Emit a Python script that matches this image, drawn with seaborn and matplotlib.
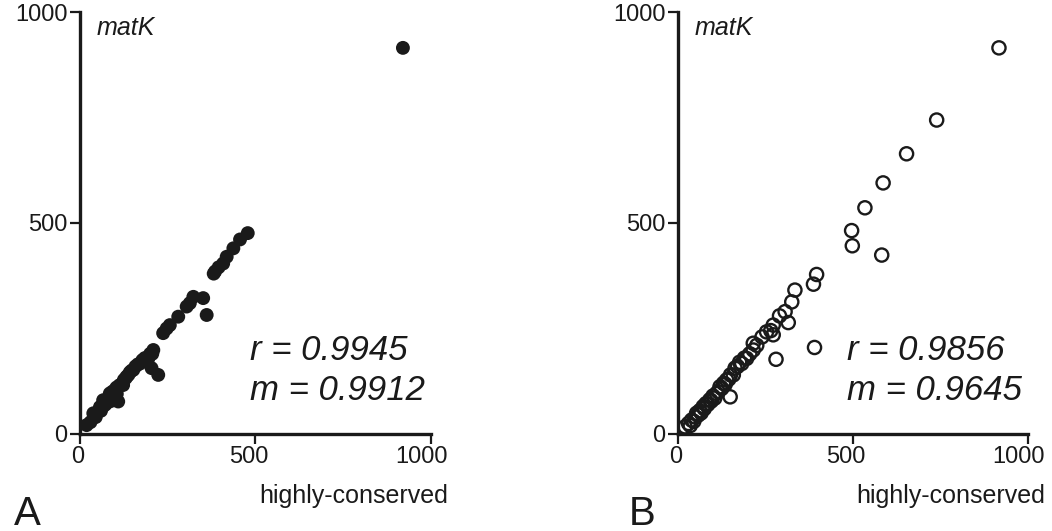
import numpy as np
import pandas as pd
import matplotlib
matplotlib.use('Agg')
import matplotlib.pyplot as plt
import matplotlib.transforms as mtransforms
import seaborn as sns

# panel A (filled dots): highly-conserved vs matK
a_x = [19, 30, 38, 45, 50, 57, 60, 66, 70, 75, 80, 85, 88, 92, 95, 100, 104, 105, 109,
       112, 118, 123, 125, 130, 133, 138, 142, 147, 152, 158, 165, 171, 178, 185, 195,
       200, 204, 206, 209, 223, 237, 247, 256, 280, 304, 313, 323, 351, 361, 381, 385,
       395, 408, 418, 437, 456, 478, 920]
a_y = [21, 28, 49, 40, 52, 64, 55, 80, 68, 72, 85, 96, 78, 100, 90, 105, 110, 95, 77,
       115, 118, 116, 128, 132, 136, 140, 146, 150, 152, 160, 165, 167, 175, 180, 179,
       190, 156, 190, 199, 140, 239, 250, 258, 278, 302, 310, 325, 322, 282, 380, 385,
       395, 404, 420, 440, 461, 476, 915]

# panel B (open circles)
b_x = [20, 30, 35, 39, 45, 50, 53, 58, 62, 66, 72, 75, 80, 85, 91, 95, 100, 105, 110,
       115, 120, 125, 130, 135, 139, 145, 149, 150, 158, 163, 170, 176, 182, 190, 196,
       205, 215, 215, 225, 240, 253, 265, 272, 272, 280, 290, 306, 315, 325, 334, 387,
       390, 396, 496, 498, 534, 582, 586, 653, 739, 917]
b_y = [17, 25, 20, 33, 30, 40, 49, 45, 55, 50, 65, 60, 72, 70, 81, 78, 90, 85, 96,
       100, 112, 108, 120, 118, 128, 130, 88, 140, 140, 156, 160, 170, 167, 180, 179,
       190, 199, 215, 210, 230, 242, 245, 235, 258, 177, 280, 290, 264, 313, 341, 355,
       205, 378, 482, 446, 536, 424, 595, 664, 744, 915]

ticks = [0, 500, 1000]
stats_a = ['r = 0.9945', 'm = 0.9912']
stats_b = ['r = 0.9856', 'm = 0.9645']

sns.set_theme(style='ticks')
plt.rcParams['font.family'] = ['Liberation Sans', 'DejaVu Sans']

fig = plt.figure(figsize=(10.52, 5.31), dpi=100)
ax1 = fig.add_axes([0.076, 0.1827, 0.3337, 0.7947])
ax2 = fig.add_axes([0.6445, 0.1827, 0.3327, 0.7947])

dfa = pd.DataFrame({'x': a_x, 'y': a_y})
dfb = pd.DataFrame({'x': b_x, 'y': b_y})

sns.scatterplot(data=dfa, x='x', y='y', ax=ax1, color='#1a1a1a', s=100,
                edgecolor='none', clip_on=False, zorder=3)
sns.scatterplot(data=dfb, x='x', y='y', ax=ax2, facecolor='none', edgecolor='#1a1a1a',
                s=90, linewidth=1.7, clip_on=False, zorder=3)

for ax, stats, letter in [(ax1, stats_a, 'A'), (ax2, stats_b, 'B')]:
    ax.set_xlim(0, 1000)
    ax.set_ylim(0, 1000)
    ax.set_xticks(ticks)
    ax.set_yticks(ticks)
    ax.set_xlabel('')
    ax.set_ylabel('')
    sns.despine(ax=ax)
    for s in ['left', 'bottom']:
        ax.spines[s].set_linewidth(2.4)
        ax.spines[s].set_color('#1a1a1a')
    ax.tick_params(direction='out', length=7, width=1.6, color='#1a1a1a',
                   labelsize=17, labelcolor='#1a1a1a', pad=2)
    # nudge x tick labels a little to the left like the original
    for lab, dx in zip(ax.get_xticklabels(), [-2, -7, -10]):
        lab.set_transform(lab.get_transform() +
                          mtransforms.ScaledTranslation(dx / 100, 0, fig.dpi_scale_trans))
    ax.set_facecolor('none')
    ax.text(0.048, 0.99, 'matK', transform=ax.transAxes, style='italic',
            fontsize=18, va='top', ha='left', color='#1a1a1a')
    ax.text(484, 175, stats[0], style='italic', fontsize=25, color='#1a1a1a')
    ax.text(484, 80, stats[1], style='italic', fontsize=25, color='#1a1a1a')
    ax.text(1.048, -0.118, 'highly-conserved', transform=ax.transAxes,
            fontsize=18, ha='right', va='top', color='#1a1a1a')

fig.text(14 / 1052, 6 / 531, 'A', fontsize=29, color='#1a1a1a')
fig.text(629 / 1052, 6 / 531, 'B', fontsize=29, color='#1a1a1a')

fig.savefig('out.png', dpi=100)
